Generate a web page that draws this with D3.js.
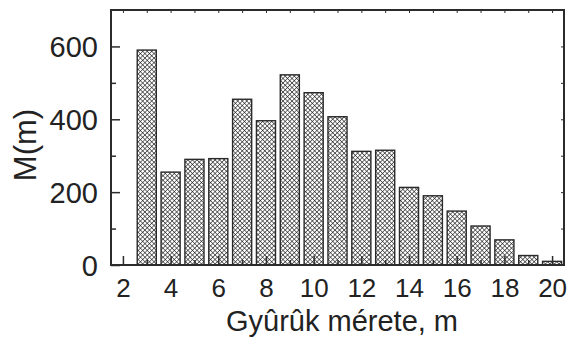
<!DOCTYPE html>
<html><head><meta charset="utf-8">
<script src="https://cdn.jsdelivr.net/npm/d3@7"></script>
<style>body{margin:0;background:#fff}svg{display:block}</style>
</head><body>
<svg id="c" width="570" height="339"></svg>
<script>
const sizes = [3,4,5,6,7,8,9,10,11,12,13,14,15,16,17,18,19,20];
const counts = [590,255,290,292,455,396,522,473,407,312,315,213,190,148,107,69,26,10];
const xTicks = [2,4,6,8,10,12,14,16,18,20];
const yTicks = [0,200,400,600];
const xTitle = "Gyûrûk mérete, m";
const yTitle = "M(m)";

(function(){
const svg = d3.select("#c");
const m = {l:111, t:10, r:564, b:265};
const W = m.r - m.l, H = m.b - m.t;
const x = d3.scaleLinear().domain([1.5,20.5]).range([0,W]);
const y = d3.scaleLinear().domain([0,700]).range([H,0]);
const font = "Liberation Sans, Arial, Helvetica, sans-serif";
const ink = "#2b2b2b";

const s = 3.2;
const defs = svg.append("defs");
const pat = defs.append("pattern").attr("id","hatch").attr("patternUnits","userSpaceOnUse")
  .attr("width",s).attr("height",s).attr("patternTransform","rotate(45)");
pat.append("rect").attr("width",s).attr("height",s).attr("fill","#fff");
pat.append("line").attr("x1",0).attr("y1",0).attr("x2",0).attr("y2",s).attr("stroke","#1a1a1a").attr("stroke-width",1.2);
pat.append("line").attr("x1",0).attr("y1",0).attr("x2",s).attr("y2",0).attr("stroke","#1a1a1a").attr("stroke-width",1.2);

const g = svg.append("g").attr("transform",`translate(${m.l},${m.t})`);
const bw = x(1.8) - x(1);
g.selectAll("rect.bar").data(sizes.map((v,i)=>({s:v,v:counts[i]}))).join("rect")
  .attr("class","bar")
  .attr("x",d=>x(d.s)-bw/2).attr("width",bw)
  .attr("y",d=>y(d.v)).attr("height",d=>H-y(d.v))
  .attr("fill","url(#hatch)").attr("stroke","#2a2a2a").attr("stroke-width",1.4);

const allX = d3.range(2,21);
const allY = d3.range(0,701,100);
const bottomAx = g.append("g").attr("transform",`translate(0,${H})`)
  .call(d3.axisBottom(x).tickValues(allX).tickSize(0).tickFormat(d=>xTicks.includes(d)?d:""));
bottomAx.selectAll(".tick line").remove();
bottomAx.selectAll(".tick").append("line").attr("stroke",ink).attr("stroke-width",1.5)
  .attr("y1",0).attr("y2",d=>xTicks.includes(d)?-9:-5);
bottomAx.selectAll("text").attr("font-size",26).attr("font-family",font).attr("fill","#222").attr("dy","0").attr("y",32);

const leftAx = g.append("g")
  .call(d3.axisLeft(y).tickValues(allY.filter(v=>v<700)).tickSize(0).tickFormat(d=>yTicks.includes(d)?d:""));
leftAx.selectAll(".tick line").remove();
leftAx.selectAll(".tick").append("line").attr("stroke",ink).attr("stroke-width",1.5)
  .attr("x1",0).attr("x2",d=>yTicks.includes(d)?9:5);
leftAx.selectAll("text").attr("font-size",29).attr("font-family",font).attr("fill","#222").attr("x",-13).attr("dy","0.36em");

const topAx = g.append("g")
  .call(d3.axisTop(x).tickValues(allX).tickSize(0).tickFormat(""));
topAx.selectAll(".tick").append("line").attr("stroke",ink).attr("stroke-width",1).attr("y1",0).attr("y2",3);
const rightAx = g.append("g").attr("transform",`translate(${W},0)`)
  .call(d3.axisRight(y).tickValues(allY.filter(v=>v>0&&v<700)).tickSize(0).tickFormat(""));
rightAx.selectAll(".tick").append("line").attr("stroke",ink).attr("stroke-width",1).attr("x1",0).attr("x2",-3);
g.selectAll(".domain").remove();

g.append("rect").attr("x",0).attr("y",0).attr("width",W).attr("height",H)
  .attr("fill","none").attr("stroke",ink).attr("stroke-width",2);

svg.append("text").attr("x",342).attr("y",331).attr("text-anchor","middle")
  .attr("font-size",29).attr("font-family",font).attr("fill","#222").text(xTitle);
svg.append("text").attr("transform","translate(36,145) rotate(-90)").attr("text-anchor","middle")
  .attr("font-size",31).attr("font-family",font).attr("fill","#222").text(yTitle);
})();
</script>
</body></html>
